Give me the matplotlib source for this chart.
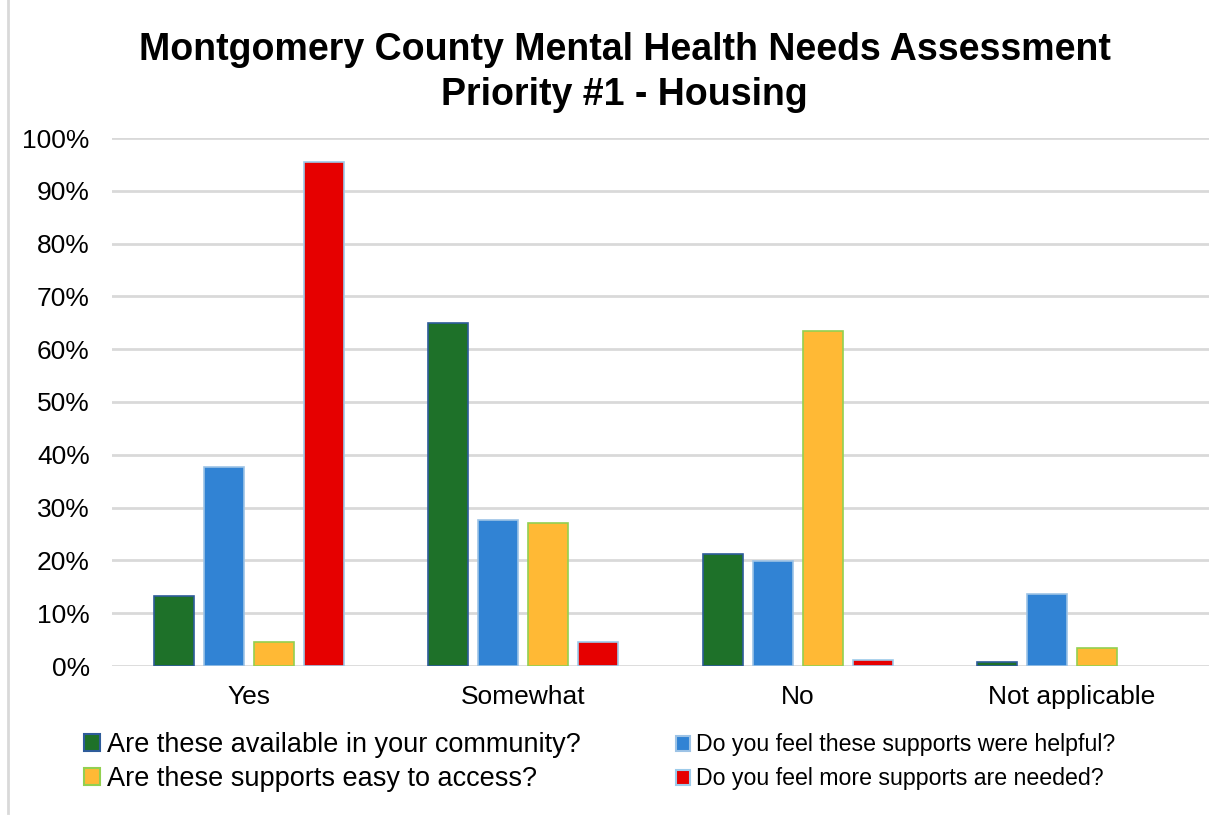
import numpy as np
import matplotlib
matplotlib.use("Agg")
import matplotlib.pyplot as plt
from matplotlib.lines import Line2D
from matplotlib.patches import Patch
from matplotlib.ticker import PercentFormatter

plt.rcParams['font.family'] = ['Liberation Sans', 'DejaVu Sans']

# survey answers per question (percent of respondents)
categories = ['Yes', 'Somewhat', 'No', 'Not applicable']
questions = ['Are these available in your community?',
             'Do you feel these supports were helpful?',
             'Are these supports easy to access?',
             'Do you feel more supports are needed?']
available = [13.2, 64.9, 21.2, 0.8]
helpful = [37.6, 27.6, 19.8, 13.7]
easy_access = [4.6, 27.1, 63.5, 3.4]
more_needed = [95.5, 4.6, 1.1, 0.0]

series = [available, helpful, easy_access, more_needed]
fills = ['#1E7129', '#3183D4', '#FFB935', '#E60000']
edges = ['#2E5C9A', '#9DC3E6', '#92D050', '#9DCBEA']

fig = plt.figure(figsize=(12.3, 8.15), dpi=100)
ax = fig.add_axes([112/1230, 1 - 666/815, (1209 - 112)/1230, (666 - 138)/815])

x = np.arange(len(categories))
pitch = 50/274
width = 40/274
for i, (vals, fc, ec) in enumerate(zip(series, fills, edges)):
    lw = [1.2 if v > 0 else 0 for v in vals]
    ax.bar(x + (i - 1.5)*pitch, vals, width, color=fc, edgecolor=ec,
           linewidth=lw, label=questions[i], zorder=3)

ax.set_xlim(-0.5, 3.5)
ax.set_ylim(0, 100)
ax.set_yticks(np.arange(0, 101, 10))
ax.yaxis.set_major_formatter(PercentFormatter(decimals=0))
ax.set_xticks(x)
ax.set_xticklabels(categories)
ax.tick_params(axis='both', length=0, colors='#000000')
ax.tick_params(axis='y', pad=16, labelsize=19)
ax.tick_params(axis='x', pad=14, labelsize=19)
ax.grid(axis='y', color='#D9D9D9', linewidth=2, zorder=0)
for s in ax.spines.values():
    s.set_visible(False)

fig.text(0.508, 1 - 50/815, 'Montgomery County Mental Health Needs Assessment',
         fontsize=27, fontweight='bold', ha='center', va='center')
fig.text(0.508, 1 - 95/815, 'Priority #1 - Housing',
         fontsize=27, fontweight='bold', ha='center', va='center')

# legend: one entry per slot, green/yellow on the left, blue/red on the right
slots = [(0, 84, 745, 19.5), (2, 84, 779, 19.5),
         (1, 676, 745, 16.7), (3, 676, 779, 16.7)]
for k, px, py, fs in slots:
    h = Patch(facecolor=fills[k], edgecolor=edges[k], linewidth=1.5)
    leg = fig.legend([h], [questions[k]], loc='center left',
                     bbox_to_anchor=(px/1230, 1 - py/815), frameon=False,
                     fontsize=fs, handlelength=0.6, handleheight=0.6,
                     handletextpad=0.25, borderaxespad=0, borderpad=0)

# chart area border on the left
fig.add_artist(Line2D([8/1230, 8/1230], [0.002, 1], color='#D9D9D9', linewidth=2))

fig.savefig('out.png', dpi=100, facecolor='white')
